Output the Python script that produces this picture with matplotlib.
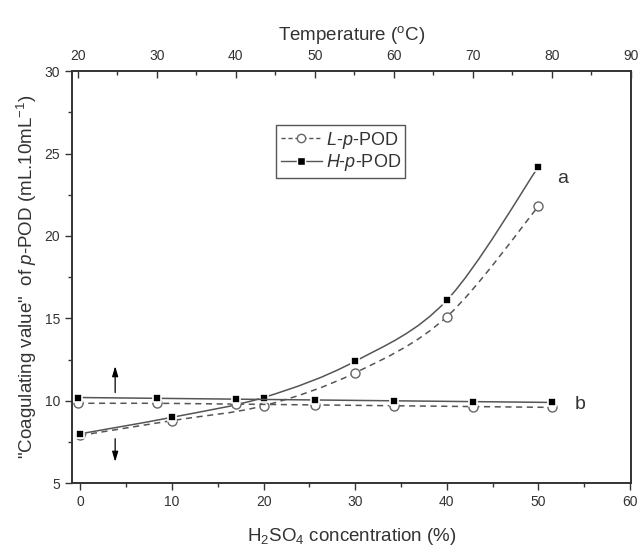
import matplotlib
matplotlib.use("Agg")
import matplotlib.pyplot as plt
from matplotlib.path import Path
from matplotlib.patches import PathPatch
from matplotlib.lines import Line2D
from matplotlib.ticker import MultipleLocator

plt.rcParams['font.family'] = 'Liberation Sans'
plt.rcParams['mathtext.fontset'] = 'custom'
plt.rcParams['mathtext.rm'] = 'Liberation Sans'
plt.rcParams['mathtext.it'] = 'Liberation Sans:italic'

# curve a: coagulating value vs H2SO4 concentration (%)
acid = [0, 10, 20, 30, 40, 50]
a_high = [8.0, 9.0, 10.2, 12.4, 16.1, 24.2]
a_low = [7.9, 8.8, 9.7, 11.7, 15.1, 21.8]

# curve b: coagulating value vs temperature (C)
temp = [20, 30, 40, 50, 60, 70, 80]
b_high = [10.2, 10.15, 10.1, 10.05, 10.0, 9.95, 9.9]
b_low = [9.85, 9.85, 9.8, 9.75, 9.7, 9.65, 9.6]

line_col = '#555555'
axis_col = '#333333'


def smooth(ax, xs, ys, **kw):
    # Catmull-Rom spline through the points, drawn as cubic Bezier pieces
    verts = [(xs[0], ys[0])]
    codes = [Path.MOVETO]
    n = len(xs)
    for i in range(n - 1):
        x0, y0 = (xs[i - 1], ys[i - 1]) if i > 0 else (xs[i], ys[i])
        x1, y1 = xs[i], ys[i]
        x2, y2 = xs[i + 1], ys[i + 1]
        x3, y3 = (xs[i + 2], ys[i + 2]) if i + 2 < n else (x2, y2)
        c1 = (x1 + (x2 - x0) / 6, y1 + (y2 - y0) / 6)
        c2 = (x2 - (x3 - x1) / 6, y2 - (y3 - y1) / 6)
        verts += [c1, c2, (x2, y2)]
        codes += [Path.CURVE4] * 3
    ax.add_patch(PathPatch(Path(verts, codes), fill=False, **kw))


fig = plt.figure(figsize=(6.38, 5.51), dpi=100)
ax = fig.add_axes([0.113, 0.123, 0.876, 0.748])

smooth(ax, acid, a_high, edgecolor=line_col, lw=1.1)
smooth(ax, acid, a_low, edgecolor=line_col, lw=1.1, ls=(0, (4, 3)))
ax.plot(acid, a_low, 'o', ms=6.5, mfc='white', mec='#666666', mew=1.0, zorder=3)
ax.plot(acid, a_high, 's', ms=6, mfc='black', mec='white', mew=1.2, zorder=4)

ax.set_xlim(-0.9, 60.1)
ax.set_ylim(5, 30)
ax.xaxis.set_major_locator(MultipleLocator(10))
ax.xaxis.set_minor_locator(MultipleLocator(5))
ax.yaxis.set_major_locator(MultipleLocator(5))
ax.yaxis.set_minor_locator(MultipleLocator(2.5))
ax.tick_params(axis='both', which='both', direction='out', colors=axis_col,
               labelsize=10, width=1.0)
ax.tick_params(which='major', length=5)
ax.tick_params(which='minor', length=3)
ax.tick_params(axis='x', top=False)
ax.tick_params(axis='y', right=False)
for sp in ax.spines.values():
    sp.set_color(axis_col)
    sp.set_linewidth(1.2)

ax.set_xlabel(r'H$_2$SO$_4$ concentration (%)', fontsize=13.5, color=axis_col, labelpad=12)
ax.set_ylabel(r'"Coagulating value"  of $\it{p}$-POD (mL.10mL$^{-1}$)',
              fontsize=13.5, color=axis_col, labelpad=4)

# temperature axis on top
ax2 = ax.twiny()
ax2.plot(temp, b_high, '-', color=line_col, lw=1.1)
ax2.plot(temp, b_low, '--', color=line_col, lw=1.1, dashes=(4, 3))
ax2.plot(temp, b_low, 'o', ms=6.5, mfc='white', mec='#666666', mew=1.0, zorder=3)
ax2.plot(temp, b_high, 's', ms=6, mfc='black', mec='white', mew=1.2, zorder=4)
ax2.set_xlim(19.3, 90)
ax2.xaxis.set_major_locator(MultipleLocator(10))
ax2.xaxis.set_minor_locator(MultipleLocator(5))
ax2.tick_params(axis='x', which='both', direction='in', colors=axis_col,
                labelsize=10, width=1.0, pad=6)
ax2.tick_params(which='major', length=5)
ax2.tick_params(which='minor', length=3)
for sp in ax2.spines.values():
    sp.set_color(axis_col)
    sp.set_linewidth(1.2)
ax2.set_xlabel(r'Temperature ($^{\rm o}$C)', fontsize=13.5, color=axis_col, labelpad=6)

# arrows pointing to the axis each curve belongs to
arr = dict(arrowstyle='-|>,head_width=0.18,head_length=0.6', color='black', lw=0.9,
           shrinkA=0, shrinkB=0)
ax.annotate('', xy=(3.8, 12.1), xytext=(3.8, 10.5), arrowprops=arr)
ax.annotate('', xy=(3.8, 6.3), xytext=(3.8, 7.7), arrowprops=arr)

ax.text(52.0, 23.5, 'a', fontsize=14, color=axis_col, va='center')
ax.text(54.0, 9.75, 'b', fontsize=14, color=axis_col, va='center')

handles = [
    Line2D([], [], color=line_col, ls='--', dashes=(3, 2), lw=1.0, marker='o', ms=6,
           mfc='white', mec='#666666'),
    Line2D([], [], color=line_col, ls='-', lw=1.0, marker='s', ms=5.5,
           mfc='black', mec='white'),
]
labels = [r'$\it{L}$-$\it{p}$-POD', r'$\it{H}$-$\it{p}$-POD']
leg = ax.legend(handles, labels, loc='upper left', bbox_to_anchor=(0.365, 0.869),
                borderaxespad=0, fancybox=False, edgecolor='#555555', fontsize=13,
                handlelength=2.3, handletextpad=0.2, borderpad=0.25, labelspacing=0.1,
                framealpha=1)
leg.get_frame().set_linewidth(1.0)
for t in leg.get_texts():
    t.set_color(axis_col)

fig.savefig('out.png', dpi=100)
